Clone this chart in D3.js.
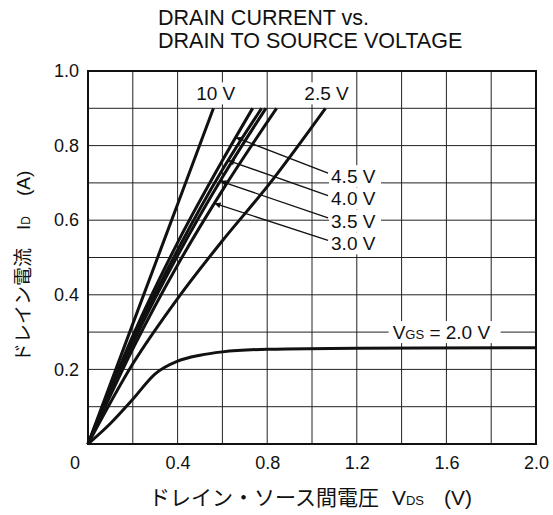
<!DOCTYPE html>
<meta charset="utf-8">
<script src="https://d3js.org/d3.v7.min.js"></script>
<style>
  body { margin: 0; background: #fff; }
  text { font-family: "Liberation Sans", Arial, sans-serif; fill: #111; }
  .jp { font-family: "Noto Sans CJK JP", sans-serif; }
</style>
<svg></svg>
<script>
    var width = 553, height = 515;
    var margin = ({top: 71, right: 17, bottom: 71, left: 88});

    // axis ticks
    var xTicks = [0.4, 0.8, 1.2, 1.6, 2.0];
    var yTicks = [0.2, 0.4, 0.6, 0.8, 1.0];

    // output curves, [VDS (V), ID (A)] per gate voltage
    var gate10  = [[0, 0], [0.2, 0.322], [0.4, 0.643], [0.56, 0.9]];
    var gate45  = [[0, 0], [0.2, 0.29], [0.4, 0.54], [0.6, 0.76], [0.735, 0.9]];
    var gate40  = [[0, 0], [0.2, 0.28], [0.4, 0.52], [0.6, 0.735], [0.775, 0.9]];
    var gate35  = [[0, 0], [0.2, 0.27], [0.4, 0.505], [0.6, 0.715], [0.794, 0.9]];
    var gate30  = [[0, 0], [0.2, 0.255], [0.4, 0.48], [0.6, 0.68], [0.842, 0.9]];
    var gate25  = [[0, 0], [0.2, 0.215], [0.4, 0.39], [0.6, 0.545], [0.8, 0.69], [1.06, 0.9]];
    var gate20  = [[0, 0], [0.1, 0.055], [0.2, 0.12], [0.3, 0.188], [0.4, 0.222], [0.5, 0.238], [0.6, 0.247], [0.8, 0.254], [1.2, 0.257], [2.0, 0.258]];

    var curves = [gate10, gate45, gate40, gate35, gate30, gate25, gate20];

    // labels: text, and (for arrowed ones) the ID where the arrow hits its curve
    var gateNames = ["10 V", "4.5 V", "4.0 V", "3.5 V", "3.0 V", "2.5 V", "2.0 V"];
    var arrowed = [1, 2, 3, 4];
    var arrowHitId = [0.822, 0.76, 0.705, 0.645];
    var arrowLabelId = [0.718, 0.658, 0.598, 0.538];

    var x = d3.scaleLinear().domain([0, 2]).range([margin.left, width - margin.right]);
    var y = d3.scaleLinear().domain([0, 1]).range([height - margin.bottom, margin.top]);

    var svg = d3.select("svg")
        .attr("width", width)
        .attr("height", height)
        .attr("viewBox", [0, 0, width, height]);

    svg.append("defs").append("marker")
        .attr("id", "head")
        .attr("viewBox", "0 0 10 10")
        .attr("refX", 10).attr("refY", 5)
        .attr("markerWidth", 8).attr("markerHeight", 6)
        .attr("markerUnits", "userSpaceOnUse")
        .attr("orient", "auto")
      .append("path")
        .attr("d", "M0,0L10,5L0,10z")
        .attr("fill", "#111");

    // grid
    var grid = svg.append("g").attr("stroke", "#222").attr("stroke-width", 1);
    grid.selectAll(".vx").data(d3.range(1, 10).map(i => i * 0.2)).join("line")
        .attr("x1", d => x(d)).attr("x2", d => x(d))
        .attr("y1", y(0)).attr("y2", y(1));
    grid.selectAll(".hy").data(d3.range(1, 10).map(i => i * 0.1)).join("line")
        .attr("y1", d => y(d)).attr("y2", d => y(d))
        .attr("x1", x(0)).attr("x2", x(2));

    svg.append("rect")
        .attr("x", x(0)).attr("y", y(1))
        .attr("width", x(2) - x(0)).attr("height", y(0) - y(1))
        .attr("fill", "none").attr("stroke", "#111").attr("stroke-width", 2);

    // axes (labels only)
    svg.append("g")
        .attr("transform", `translate(0,${y(0)})`)
        .call(d3.axisBottom(x).tickValues(xTicks).tickSize(0).tickPadding(12).tickFormat(d3.format(".1f")))
        .call(g => g.select(".domain").remove())
        .call(g => g.selectAll("text").attr("font-size", 18).attr("font-family", null));

    svg.append("g")
        .attr("transform", `translate(${x(0)},0)`)
        .call(d3.axisLeft(y).tickValues(yTicks).tickSize(0).tickPadding(9).tickFormat(d3.format(".1f")))
        .call(g => g.select(".domain").remove())
        .call(g => g.selectAll("text").attr("font-size", 18).attr("font-family", null));

    svg.append("text")
        .attr("x", x(0) - 13).attr("y", y(0) + 25)
        .attr("text-anchor", "middle").attr("font-size", 18).text("0");

    // white label backings
    var labelBg = svg.append("g").attr("fill", "#fff");

    // curves
    var line = d3.line().x(d => x(d[0])).y(d => y(d[1])).curve(d3.curveMonotoneX);
    svg.append("g").selectAll("path").data(curves).join("path")
        .attr("d", line)
        .attr("fill", "none")
        .attr("stroke", "#111")
        .attr("stroke-width", 3)
        .attr("stroke-linejoin", "round");

    function vdsAt(curve, id) {
        for (var i = 1; i < curve.length; i++) {
            if (curve[i][1] >= id) {
                var a = curve[i - 1], b = curve[i];
                return a[0] + (b[0] - a[0]) * (id - a[1]) / (b[1] - a[1]);
            }
        }
        return curve[curve.length - 1][0];
    }

    // arrowed labels
    arrowed.forEach(function(k, i) {
        var tx = x(1.085), ty = y(arrowLabelId[i]);
        labelBg.append("rect").attr("x", tx - 2).attr("y", ty - 11).attr("width", 52).attr("height", 22);
        svg.append("text")
            .attr("x", tx).attr("y", ty).attr("dy", "0.35em")
            .attr("font-size", 19).text(gateNames[k]);
        svg.append("line")
            .attr("x1", tx - 3).attr("y1", ty - 3)
            .attr("x2", x(vdsAt(curves[k], arrowHitId[i]))).attr("y2", y(arrowHitId[i]))
            .attr("stroke", "#111").attr("stroke-width", 1.3)
            .attr("marker-end", "url(#head)");
    });

    // top labels
    [[0, 0.57], [5, 1.065]].forEach(function(p) {
        var tx = x(p[1]), ty = y(0.94);
        labelBg.append("rect").attr("x", tx - 24).attr("y", ty - 11).attr("width", 50).attr("height", 22);
        svg.append("text")
            .attr("x", tx).attr("y", ty).attr("dy", "0.35em")
            .attr("text-anchor", "middle").attr("font-size", 19).text(gateNames[p[0]]);
    });

    // VGS = 2.0 V label
    var vgsText = svg.append("text")
        .attr("x", x(1.36)).attr("y", y(0.3)).attr("dy", "0.35em")
        .attr("font-size", 19);
    vgsText.append("tspan").text("V");
    vgsText.append("tspan").attr("font-size", 13).text("GS");
    vgsText.append("tspan").text(" = " + gateNames[6]);
    labelBg.append("rect").attr("x", x(1.36) - 4).attr("y", y(0.3) - 11).attr("width", 112).attr("height", 22);

    // title
    svg.append("text").attr("x", 158).attr("y", 25).attr("font-size", 21.5).text("DRAIN CURRENT vs.");
    svg.append("text").attr("x", 158).attr("y", 48).attr("font-size", 21.5).text("DRAIN TO SOURCE VOLTAGE");

    // x title
    var xt = svg.append("text").attr("x", 149).attr("y", 505).attr("font-size", 21);
    xt.append("tspan").attr("class", "jp").text("ドレイン・ソース間電圧");
    xt.append("tspan").attr("dx", 13).text("V");
    xt.append("tspan").attr("font-size", 13).text("DS");
    xt.append("tspan").attr("dx", 20).text("(V)");

    // y title
    var yt = svg.append("text")
        .attr("transform", "translate(30,362) rotate(-90)")
        .attr("font-size", 19);
    yt.append("tspan").attr("class", "jp").text("ドレイン電流");
    yt.append("tspan").attr("dx", 18).text("I");
    yt.append("tspan").attr("font-size", 12).text("D");
    yt.append("tspan").attr("dx", 20).text("(A)");
</script>
